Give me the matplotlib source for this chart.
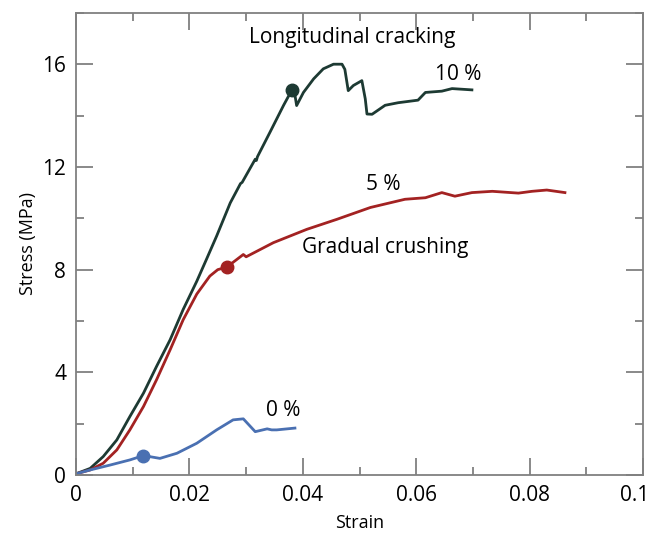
import numpy as np
import matplotlib
matplotlib.use("Agg")
import matplotlib.pyplot as plt
import matplotlib.transforms as mtransforms
from matplotlib.ticker import MultipleLocator

plt.rcParams['font.family'] = ['Open Sans', 'DejaVu Sans']

# 10 % fibre content
strain10 = [0.0, 0.0025, 0.0048, 0.0072, 0.0095, 0.0119, 0.0142, 0.0166, 0.0189, 0.0213,
            0.0230, 0.0248, 0.0272, 0.0290, 0.0293, 0.0316, 0.0318, 0.0320, 0.0342, 0.0366,
            0.0380, 0.0386, 0.0389, 0.0401, 0.0419, 0.0436, 0.0454, 0.0469, 0.0474,
            0.0480, 0.0489, 0.0504, 0.0510, 0.0513, 0.0522, 0.0545, 0.0568, 0.0603,
            0.0616, 0.0645, 0.0663, 0.0698]
stress10 = [0.05, 0.26, 0.72, 1.37, 2.28, 3.19, 4.23, 5.27, 6.45, 7.55,
            8.4, 9.31, 10.6, 11.35, 11.4, 12.3, 12.25, 12.4, 13.35, 14.4,
            14.97, 14.8, 14.39, 14.9, 15.43, 15.82, 16.0, 16.0, 15.8,
            14.97, 15.17, 15.36, 14.65, 14.06, 14.05, 14.4, 14.5, 14.6,
            14.9, 14.95, 15.05, 15.0]

# 5 % fibre content
strain5 = [0.0, 0.0025, 0.0048, 0.0072, 0.0095, 0.0119, 0.0142, 0.0166, 0.0189, 0.0213,
           0.0236, 0.0250, 0.0266, 0.0295, 0.0300, 0.0348, 0.0407, 0.0460, 0.0519,
           0.058, 0.0616, 0.0645, 0.0668, 0.0698, 0.0734, 0.078, 0.0804, 0.083, 0.0862]
stress5 = [0.05, 0.2, 0.46, 0.98, 1.76, 2.67, 3.71, 4.88, 6.05, 7.05,
           7.75, 8.0, 8.1, 8.59, 8.5, 9.05, 9.57, 9.96, 10.42,
           10.74, 10.8, 11.0, 10.86, 11.0, 11.05, 10.98, 11.05, 11.1, 11.0]

# 0 % fibre content
strain0 = [0.0, 0.0025, 0.006, 0.0095, 0.0119, 0.0148, 0.0178, 0.0213, 0.0248, 0.0277,
           0.0295, 0.0316, 0.0337, 0.0345, 0.0354, 0.0386]
stress0 = [0.05, 0.2, 0.39, 0.59, 0.76, 0.65, 0.85, 1.24, 1.76, 2.15,
           2.19, 1.69, 1.8, 1.76, 1.76, 1.83]

# onset points (markers)
onset_x = [0.0381, 0.0266, 0.0119]
onset_y = [15.0, 8.1, 0.76]

c10, c5, c0 = '#1d3a33', '#a32222', '#4a70b2'

fig = plt.figure(figsize=(6.55, 5.35), dpi=100)
ax = fig.add_axes([0.116, 0.112, 0.866, 0.864])

for xs, ys, c, mx, my in zip([strain10, strain5, strain0], [stress10, stress5, stress0],
                             [c10, c5, c0], onset_x, onset_y):
    ax.plot(xs, ys, '-', color=c, lw=2, solid_joinstyle='round')
    ax.plot(mx, my, 'o', color=c, ms=9)

fs = 15
ax.text(0.0487, 17.05, "Longitudinal cracking", fontsize=fs, ha='center', va='center')
ax.text(0.0674, 15.6, "10 %", fontsize=fs, ha='center', va='center')
ax.text(0.0541, 11.3, "5 %", fontsize=fs, ha='center', va='center')
ax.text(0.0545, 8.87, "Gradual crushing", fontsize=fs, ha='center', va='center')
ax.text(0.0365, 2.5, "0 %", fontsize=fs, ha='center', va='center')

ax.set_xlim(0, 0.1)
ax.set_ylim(0, 18)
ax.set_xticks([0, 0.02, 0.04, 0.06, 0.08, 0.1])
ax.set_xticklabels(['0', '0.02', '0.04', '0.06', '0.08', '0.1'])
ax.set_yticks([0, 4, 8, 12, 16])
ax.xaxis.set_minor_locator(MultipleLocator(0.01))
ax.yaxis.set_minor_locator(MultipleLocator(2))

for s in ax.spines.values():
    s.set_color('#808080')
    s.set_linewidth(1.3)
ax.tick_params(which='both', direction='in', top=True, right=True, color='#808080', width=1.3)
ax.tick_params(which='major', length=12, labelsize=fs, pad=7)
ax.tick_params(which='minor', length=6)

# keep the last x label inside the figure
last = ax.get_xticklabels()[-1]
last.set_transform(last.get_transform() + mtransforms.ScaledTranslation(-6/72, 0, fig.dpi_scale_trans))

ax.set_xlabel("Strain", fontsize=13, labelpad=6)
ax.set_ylabel("Stress (MPa)", fontsize=13, labelpad=4)

fig.savefig("out.png", dpi=100)
